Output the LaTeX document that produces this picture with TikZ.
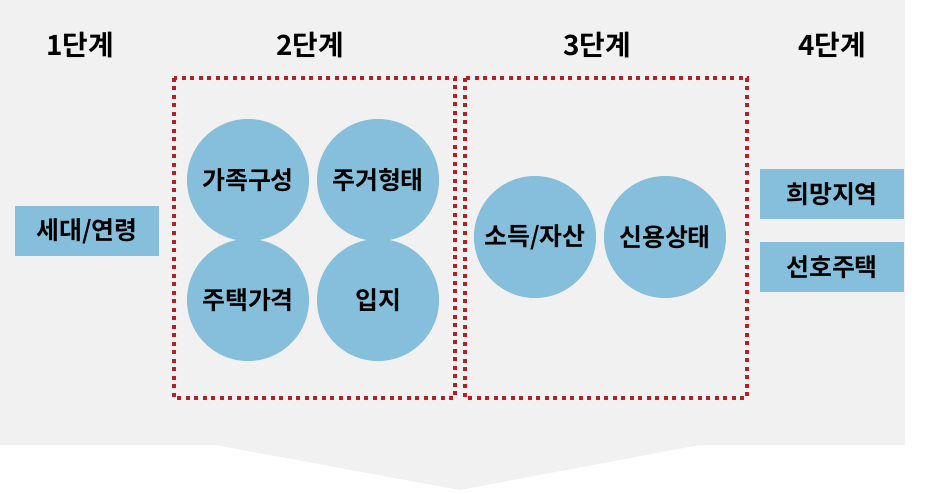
\documentclass[tikz,border=0pt]{standalone}
\usepackage{fontspec}
\setmainfont{Noto Sans CJK KR}[BoldFont={Noto Sans CJK KR Bold}]
\usetikzlibrary{positioning}
\definecolor{panelgray}{HTML}{F1F1F1}
\definecolor{itemblue}{HTML}{86BFDC}
\definecolor{dotred}{HTML}{B22222}
\begin{document}
\begin{tikzpicture}[
		x=1bp, y=-1bp,
		inner sep=0pt, outer sep=0pt,
		stage/.style={font=\fontsize{28}{32}\selectfont\bfseries},
		item/.style={fill=itemblue, font=\fontsize{25}{29}\selectfont\bfseries},
		bubble/.style={item, circle, minimum size=122bp},
		tag/.style={item, rectangle, minimum width=144bp, minimum height=50bp},
		group/.style={draw=dotred, line width=4bp, dash pattern=on 4bp off 4.5bp},
	]
		% Background
		\useasboundingbox (0,0) rectangle (940,494);
		\fill[panelgray] (0,0) -- (905,0) -- (905,445) -- (700,445) -- (460,490)
			-- (215,445) -- (0,445) -- cycle;

		% Stages
		\node[stage] (s1) at (80,45) {1단계};
		\node[stage] (s2) at (310,45) {2단계};
		\node[stage] (s3) at (597,45) {3단계};
		\node[stage] (s4) at (832,45) {4단계};

		% Groups
		\draw[group] (174,78) rectangle (455,398);
		\draw[group] (465,78) rectangle (747,398);

		% Items
		\node[tag] (age) at (87,231) {세대/연령};
		\node[bubble] (family) at (248,180) {가족구성};
		\node[bubble] (housing) at (378,180) {주거형태};
		\node[bubble] (price) at (248,300) {주택가격};
		\node[bubble] (site) at (378,300) {입지};
		\node[bubble] (income) at (535,237) {소득/자산};
		\node[bubble] (credit) at (665,237) {신용상태};
		\node[tag] (region) at (832,194) {희망지역};
		\node[tag, below=23bp of region] (prefer) {선호주택};
	\end{tikzpicture}
\end{document}
